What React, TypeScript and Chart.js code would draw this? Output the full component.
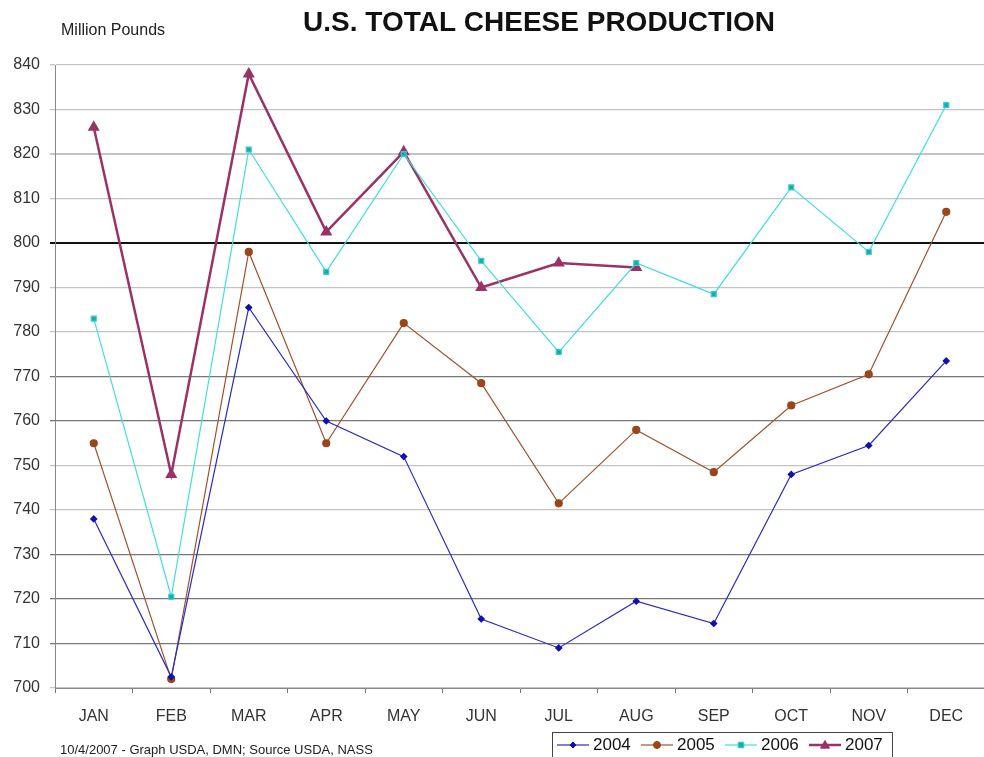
import React, { useEffect, useRef } from "react";
import { Chart, registerables } from "chart.js";

Chart.register(...registerables);

const months = ["JAN", "FEB", "MAR", "APR", "MAY", "JUN", "JUL", "AUG", "SEP", "OCT", "NOV", "DEC"];
const y2004 = [738, 702.5, 785.5, 760, 752, 715.5, 709, 719.5, 714.5, 748, 754.5, 773.5];
const y2005 = [755, 702, 798, 755, 782, 768.5, 741.5, 758, 748.5, 763.5, 770.5, 807];
const y2006 = [783, 720.5, 821, 793.5, 820, 796, 775.5, 795.5, 788.5, 812.5, 798, 831];
const y2007 = [826, 748, 838, 802.5, 820.5, 790, 795.5, 794.5, null, null, null, null];
const seriesNames = ["2004", "2005", "2006", "2007"];
const titleText = "U.S. TOTAL CHEESE PRODUCTION";
const unitText = "Million Pounds";
const footerText = "10/4/2007 - Graph USDA, DMN; Source USDA, NASS";

const FONT = "'Liberation Sans', Arial, sans-serif";

const textPlugin = {
  id: "texts",
  afterDraw(chart: any) {
    const ctx = chart.ctx;
    ctx.save();
    ctx.fillStyle = "#111";
    ctx.font = `bold 28px ${FONT}`;
    ctx.textAlign = "center";
    ctx.textBaseline = "middle";
    ctx.fillText(titleText, 539, 23);
    ctx.font = `16px ${FONT}`;
    ctx.fillStyle = "#222";
    ctx.textAlign = "left";
    ctx.fillText(unitText, 61, 31);
    ctx.font = `13px ${FONT}`;
    ctx.fillText(footerText, 60, 750);

    // legend
    const lx = 552, ly = 732, lw = 340, lh = 28;
    ctx.strokeStyle = "#444";
    ctx.lineWidth = 1;
    ctx.fillStyle = "#fff";
    ctx.fillRect(lx, ly, lw, lh);
    ctx.strokeRect(lx + 0.5, ly + 0.5, lw, lh);
    const cy = ly + 13;
    let x = lx + 5;
    chart.data.datasets.forEach((ds: any) => {
      ctx.strokeStyle = ds.borderColor;
      ctx.lineWidth = ds.borderWidth;
      ctx.beginPath();
      ctx.moveTo(x, cy);
      ctx.lineTo(x + 32, cy);
      ctx.stroke();
      ctx.fillStyle = ds.pointBackgroundColor;
      ctx.strokeStyle = ds.pointBorderColor;
      ctx.lineWidth = 1;
      const mx = x + 16;
      const r = ds.pointRadius;
      ctx.beginPath();
      if (ds.pointStyle === "rectRot") {
        ctx.moveTo(mx, cy - r); ctx.lineTo(mx + r, cy); ctx.lineTo(mx, cy + r); ctx.lineTo(mx - r, cy); ctx.closePath();
      } else if (ds.pointStyle === "circle") {
        ctx.arc(mx, cy, r, 0, Math.PI * 2);
      } else if (ds.pointStyle === "rect") {
        ctx.rect(mx - r * 0.8, cy - r * 0.8, r * 1.6, r * 1.6);
      } else {
        ctx.moveTo(mx, cy - r); ctx.lineTo(mx + r, cy + r * 0.7); ctx.lineTo(mx - r, cy + r * 0.7); ctx.closePath();
      }
      ctx.fill();
      ctx.stroke();
      ctx.fillStyle = "#111";
      ctx.font = `17px ${FONT}`;
      ctx.textAlign = "left";
      ctx.textBaseline = "middle";
      ctx.fillText(ds.label, x + 36, cy);
      x += 84;
    });
    ctx.restore();
  },
};

export default function App() {
  const ref = useRef<HTMLCanvasElement>(null);
  useEffect(() => {
    if (!ref.current) return;
    const chart = new Chart(ref.current, {
      type: "line",
      data: {
        labels: months,
        datasets: [
          {
            label: seriesNames[0], data: y2004, borderColor: "#2b2bc4", borderWidth: 1.2,
            pointStyle: "rectRot", pointRadius: 3, pointBackgroundColor: "#1010b0", pointBorderColor: "#1010b0",
          },
          {
            label: seriesNames[1], data: y2005, borderColor: "#a0522d", borderWidth: 1.2,
            pointStyle: "circle", pointRadius: 3.5, pointBackgroundColor: "#9b4519", pointBorderColor: "#9b4519",
          },
          {
            label: seriesNames[2], data: y2006, borderColor: "#40dede", borderWidth: 1.2,
            pointStyle: "rect", pointRadius: 3.5, pointBackgroundColor: "#1fa8a8", pointBorderColor: "#30d0d0",
          },
          {
            label: seriesNames[3], data: y2007, borderColor: "#993366", borderWidth: 2.5,
            pointStyle: "triangle", pointRadius: 4.5, pointBackgroundColor: "#993366", pointBorderColor: "#993366",
          },
        ] as any,
      },
      options: {
        animation: false,
        responsive: false,
        events: [],
        layout: { padding: { left: 0, right: 1, top: 65, bottom: 0 } },
        plugins: { legend: { display: false }, title: { display: false }, tooltip: { enabled: false } },
        elements: { line: { tension: 0 } },
        scales: {
          x: {
            offset: true,
            grid: { offset: true, drawOnChartArea: false, drawTicks: true, tickLength: 5, color: "#777" },
            border: { color: "#888", width: 1 },
            ticks: { color: "#333", font: { family: FONT, size: 16 }, padding: 14 },
            afterFit(scale: any) { scale.height = 69; },
          },
          y: {
            min: 700,
            max: 840,
            ticks: { stepSize: 10, color: "#333", font: { family: FONT, size: 16 }, padding: 10 },
            grid: {
              tickLength: 5,
              color: (c: any) => {
                const v = c.tick && c.tick.value;
                if (v === 800) return "#111";
                if ([770, 760, 730, 720, 710].includes(v)) return "#777";
                return "#c4c4c4";
              },
              lineWidth: (c: any) => {
                const v = c.tick && c.tick.value;
                if (v === 820 || v === 800) return 2;
                return 1.3;
              },
            },
            border: { color: "#888", width: 1 },
            afterFit(scale: any) { scale.width = 55; },
          },
        },
      },
      plugins: [textPlugin],
    });
    return () => chart.destroy();
  }, []);
  return (
    <div style={{ position: "absolute", left: 0, top: 0, width: 984, height: 757, overflow: "hidden", background: "#fff" }}>
      <canvas ref={ref} width={992} height={757} style={{ width: 992, height: 757, display: "block" }} />
    </div>
  );
}
